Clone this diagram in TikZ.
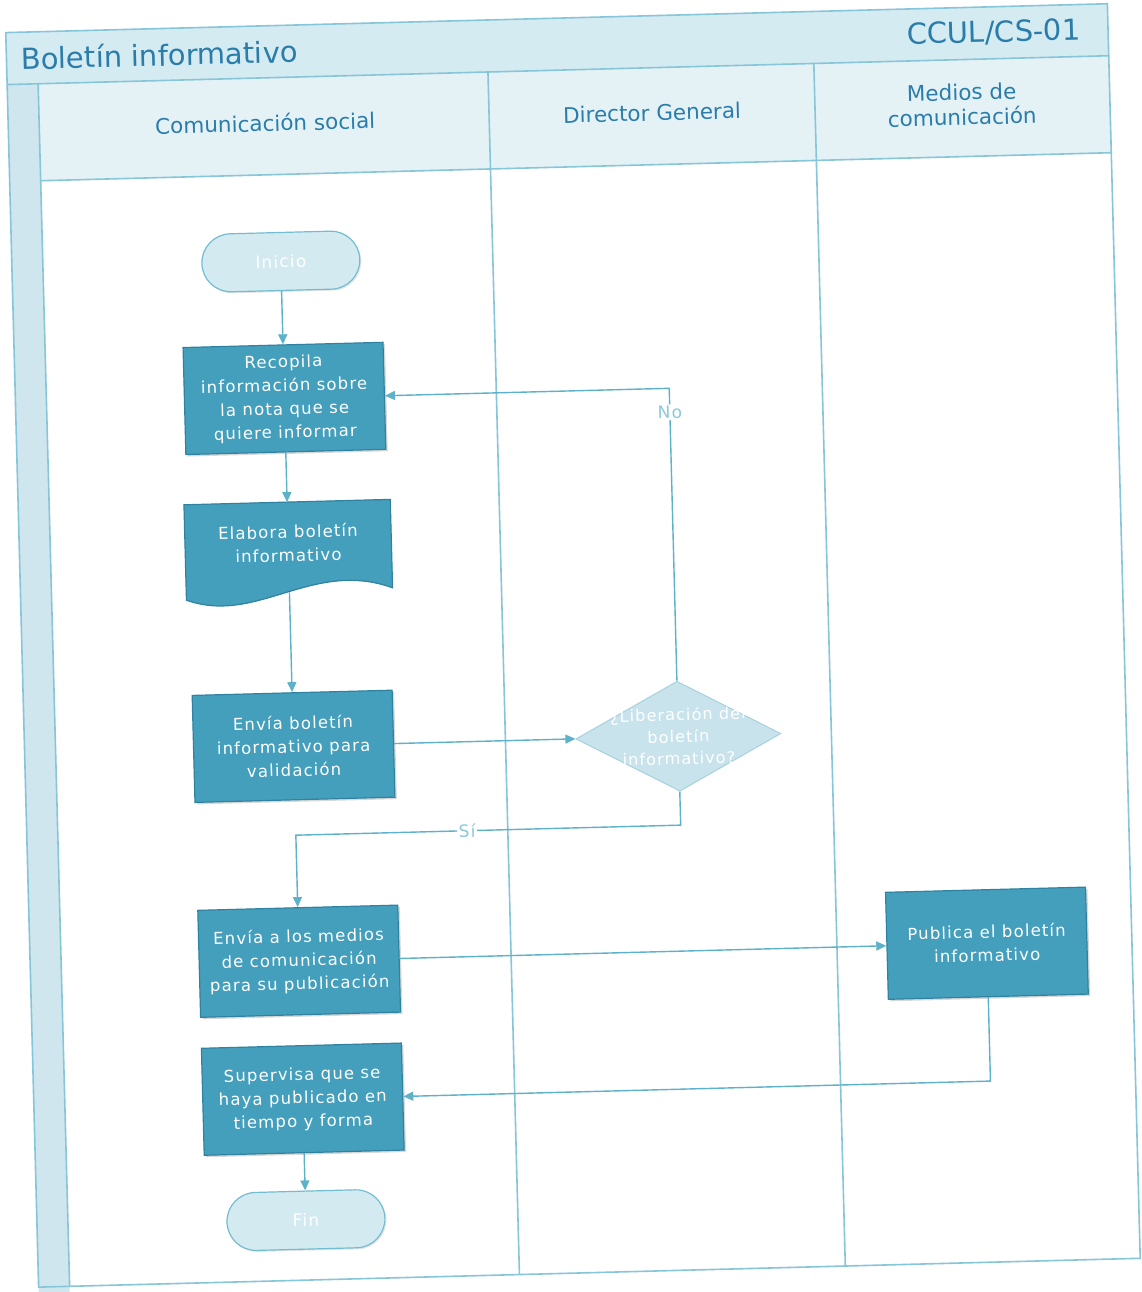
\documentclass[tikz,border=0pt]{standalone}
\usepackage{fontspec}
\setmainfont{DejaVu Sans}
\newfontfamily\boxfont[LetterSpace=7]{DejaVu Sans}
\usetikzlibrary{shapes.geometric,arrows.meta,shadows,calc}
\definecolor{frameline}{HTML}{86C6D8}
\definecolor{titlefill}{HTML}{D5EBF2}
\definecolor{headfill}{HTML}{E4F2F6}
\definecolor{stripfill}{HTML}{CFE6EE}
\definecolor{boxfill}{HTML}{449FBD}
\definecolor{boxborder}{HTML}{2F82A0}
\definecolor{termfill}{HTML}{D3EAF1}
\definecolor{termborder}{HTML}{74BDD1}
\definecolor{decfill}{HTML}{C9E3EC}
\definecolor{decborder}{HTML}{A6D2DF}
\definecolor{connc}{HTML}{5DB2CA}
\definecolor{titletext}{HTML}{2A7DAB}
\definecolor{lbltext}{HTML}{8CC8D8}
\tikzset{
  procbox/.style={rectangle, fill=boxfill, draw=boxborder, line width=1.2pt,
    text=white, font=\boxfont\fontsize{16.5}{23.5}\selectfont, align=center,
    minimum width=200pt, minimum height=107pt, inner sep=2pt,
    drop shadow={shadow xshift=2pt, shadow yshift=-2pt, opacity=0.3}},
  termbox/.style={rectangle, rounded corners=29pt, fill=termfill, draw=termborder,
    line width=1.2pt, text=white, font=\boxfont\fontsize{17}{20}\selectfont,
    minimum width=158pt, minimum height=58pt,
    drop shadow={shadow xshift=1.5pt, shadow yshift=-1.5pt, opacity=0.2}},
  decbox/.style={diamond, fill=decfill, draw=decborder, line width=1pt,
    text=white, font=\boxfont\fontsize{16}{22}\selectfont, align=center,
    minimum width=205pt, minimum height=110pt, aspect=1.86, inner sep=-22pt},
  doctext/.style={rectangle, text=white, font=\boxfont\fontsize{16.5}{23.5}\selectfont, align=center,
    minimum width=206pt, minimum height=82pt, inner sep=0pt},
  conn/.style={draw=connc, line width=1.4pt, -{Triangle[length=10pt,width=9pt]}},
  lbl/.style={fill=white, text=lbltext, font=\boxfont\fontsize{17}{20}\selectfont, inner sep=1.5pt},
  headtext/.style={text=titletext, font=\fontsize{21.5}{25}\selectfont, align=center},
  lane/.style={draw=frameline, line width=1.6pt}
}
\begin{document}
\begin{tikzpicture}[x=1pt,y=-1pt]
\useasboundingbox (0,0) rectangle (1142,1292);
\fill[white] (0,0) rectangle (1142,1292);
\begin{scope}[rotate around={1.5:(571,646)}, transform shape]
  % frame
  \fill[titlefill] (22,18) rectangle (1124,70);
  \fill[stripfill] (22,70) rectangle (53,1300);
  \fill[headfill] (53,70) rectangle (1124,167);
  \draw[lane] (22,18) rectangle (1124,1273);
  \draw[lane] (22,70) -- (1124,70);
  \draw[lane] (53,70) -- (53,1273);
  \draw[lane] (53,167) -- (1124,167);
  \draw[lane] (503,70) -- (503,1273);
  \draw[lane] (829,70) -- (829,1273);
  % titles
  \node[text=titletext, font=\fontsize{29}{32}\selectfont, anchor=west] (title) at (33,44) {Boletín informativo};
  \node[text=titletext, font=\fontsize{29}{32}\selectfont, anchor=east] (code) at (1100,44) {CCUL/CS-01};
  \node[headtext] (h1) at (279,115) {Comunicación social};
  \node[headtext] (h2) at (666,115) {Director General};
  \node[headtext] (h3) at (976,115) {Medios de\\comunicación};
  % nodes
  \node[termbox] (inicio) at (291,254) {Inicio};
  \node[procbox] (recopila) at (291,391) {Recopila\\información sobre\\la nota que se\\quiere informar};
  \coordinate (elabora) at (291,536);
  \node[doctext] (elabframe) at (elabora) {};
  \fill[black, opacity=0.25, shift={(2,2)}]
    (elabframe.north west) -- (elabframe.north east) -- ($(elabframe.south east)+(0,6)$)
    .. controls ($(elabframe.south east)+(-80,-25)$) and ($(elabframe.south west)+(70,40)$) ..
    ($(elabframe.south west)+(0,13)$) -- cycle;
  \filldraw[fill=boxfill, draw=boxborder, line width=1.2pt]
    (elabframe.north west) -- (elabframe.north east) -- ($(elabframe.south east)+(0,6)$)
    .. controls ($(elabframe.south east)+(-80,-25)$) and ($(elabframe.south west)+(70,40)$) ..
    ($(elabframe.south west)+(0,13)$) -- cycle;
  \node[doctext] (elabtext) at (elabora) {Elabora boletín\\informativo};
  \coordinate (elabwave) at ($(elabframe.south)+(0,8)$);
  \node[procbox] (valida) at (291,739) {Envía boletín\\informativo para\\validación};
  \node[decbox] (decision) at (676,739) {¿Liberación del\\boletín\\informativo?};
  \node[procbox] (medios) at (291,954) {Envía a los medios\\de comunicación\\para su publicación};
  \node[procbox] (publica) at (979,954) {Publica el boletín\\informativo};
  \node[procbox] (supervisa) at (291,1092) {Supervisa que se\\haya publicado en\\tiempo y forma};
  \node[termbox] (fin) at (291,1213) {Fin};
  % connectors
  \coordinate (siy) at (0,828);
  \draw[conn] (inicio) -- (recopila);
  \draw[conn] (recopila) -- (elabframe.north);
  \draw[conn] (elabwave) -- (valida);
  \draw[conn] (valida) -- (decision);
  \draw[conn] (decision.north) -- node[lbl, pos=0.918] {No} (decision.north |- recopila.east) -- (recopila.east);
  \draw[conn] (decision.south) -- (decision.south |- siy) -- node[lbl, pos=0.555] {Sí} (medios.north |- siy) -- (medios.north);
  \draw[conn] (medios) -- (publica);
  \draw[conn] (publica.south) |- (supervisa.east);
  \draw[conn] (supervisa) -- (fin);
\end{scope}
\end{tikzpicture}
\end{document}
